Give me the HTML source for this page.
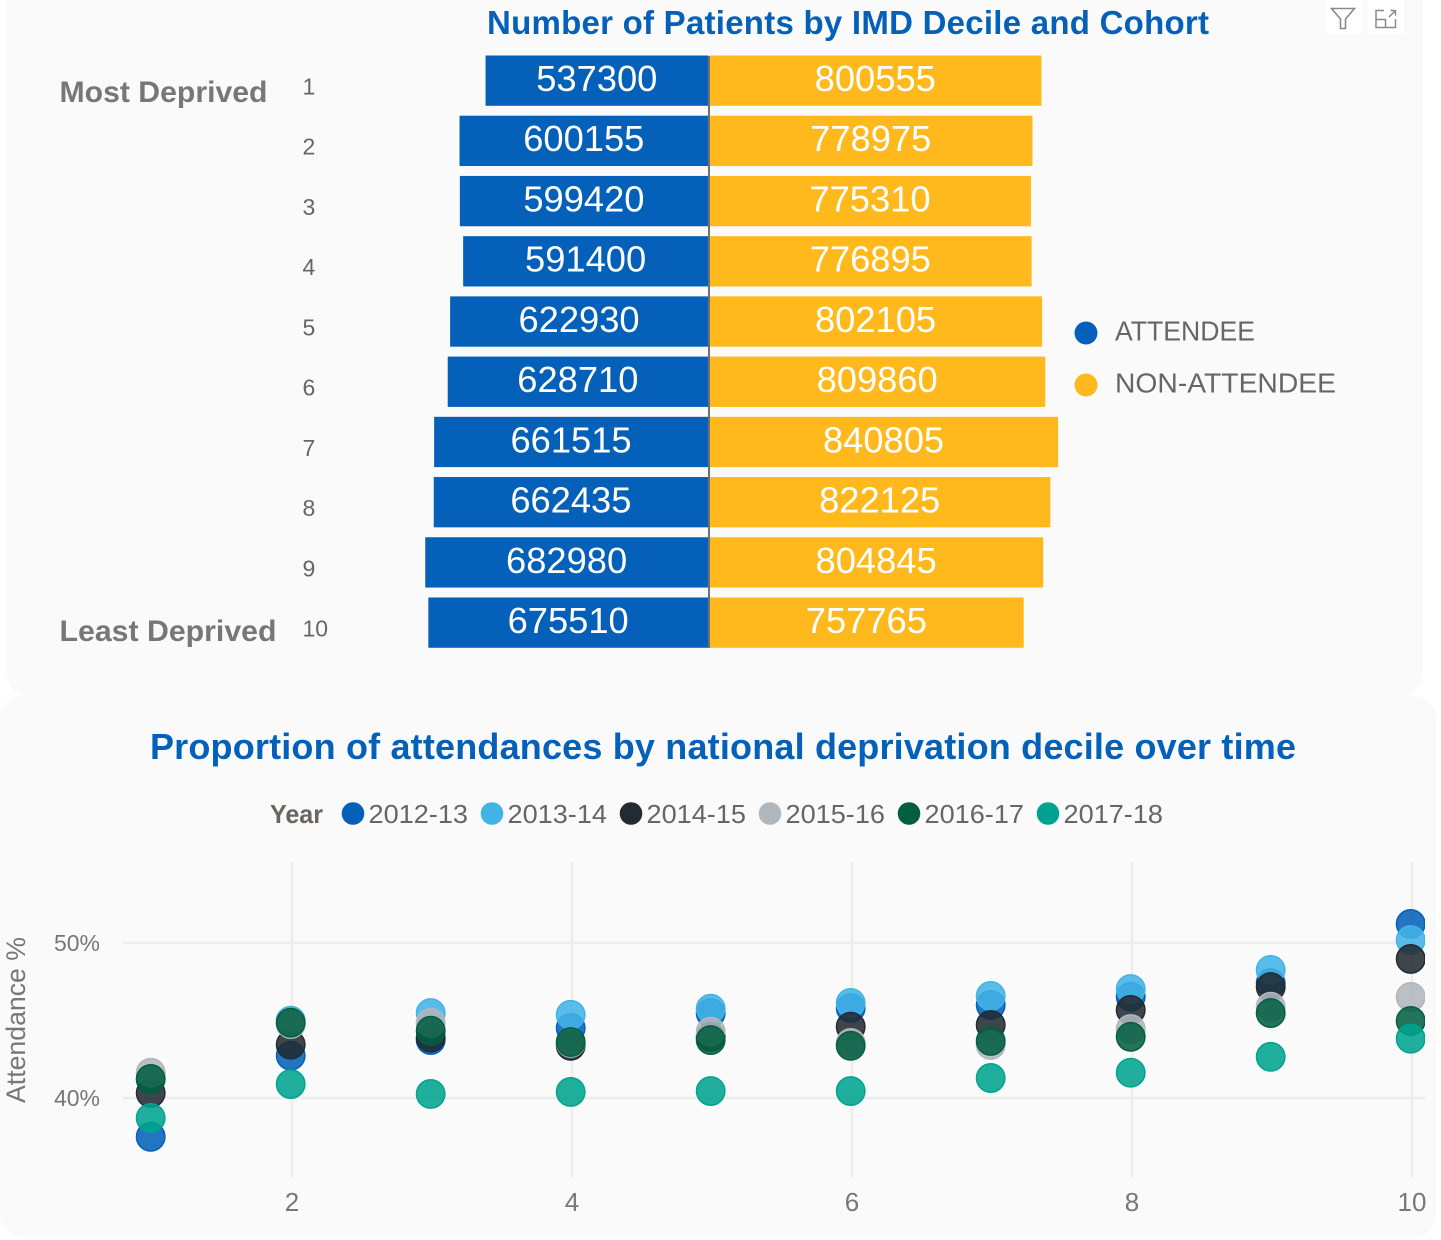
<!DOCTYPE html>
<html lang="en">
<head>
<meta charset="utf-8">
<title>Patients by IMD Decile and Attendance Over Time</title>
<style>
  html,body{margin:0;padding:0;background:#fff;width:1441px;height:1240px;overflow:hidden}
  svg{display:block}
  text{font-family:"Liberation Sans",Arial,sans-serif}
</style>
</head>
<body>
<svg id="page" xmlns="http://www.w3.org/2000/svg" width="1441" height="1240" viewBox="0 0 1441 1240">
  <defs>
    <clipPath id="plot-clip"><rect x="100" y="850" width="1325" height="340"/></clipPath>
  </defs>
  <rect x="7" y="-30" width="1416" height="726" rx="22" fill="#fafafa"/>
  <rect x="0" y="696" width="1436" height="541" rx="22" fill="#fafafa"/>

  <text x="487" y="34" font-size="33" font-weight="700" fill="#0460b8" textLength="722" lengthAdjust="spacing">Number of Patients by IMD Decile and Cohort</text>

  <g>
    <rect x="1326" y="0" width="36" height="34" fill="#fff"/>
    <path d="M1331.5 8.5 H1354.5 L1345.5 19 V28.5 H1340.5 V19 Z" fill="none" stroke="#8a8a8a" stroke-width="1.6"/>
  </g>
  <g>
    <rect x="1368" y="0" width="36" height="34" fill="#fff"/>
    <path d="M1384 10.5 H1376 V27.5 H1395.5 V19 M1376 19.5 H1385.5 V27.5 M1389 17 L1395.5 10.5 M1390.5 10.5 H1395.5 V15.5" fill="none" stroke="#8a8a8a" stroke-width="1.5"/>
  </g>

  <text x="59.5" y="102" font-size="30" font-weight="700" fill="#777" textLength="208" lengthAdjust="spacingAndGlyphs">Most Deprived</text>
  <text x="59.5" y="641" font-size="30" font-weight="700" fill="#777" textLength="217" lengthAdjust="spacingAndGlyphs">Least Deprived</text>

  <g id="pyramid"></g>
  <rect x="708" y="56" width="2" height="592" fill="#707070"/>

  <g>
    <circle cx="1086" cy="333" r="11.5" fill="#0460b8"/>
    <text x="1115" y="340.5" font-size="28" fill="#666" textLength="140" lengthAdjust="spacingAndGlyphs">ATTENDEE</text>
  </g>
  <g>
    <circle cx="1086" cy="385" r="11.5" fill="#ffb91d"/>
    <text x="1115" y="392.5" font-size="28" fill="#666" textLength="221" lengthAdjust="spacingAndGlyphs">NON-ATTENDEE</text>
  </g>

  <text x="150" y="759" font-size="36" font-weight="700" fill="#0460b8" textLength="1146" lengthAdjust="spacing">Proportion of attendances by national deprivation decile over time</text>

  <text x="270" y="823" font-size="26" font-weight="700" fill="#6b6560" textLength="53" lengthAdjust="spacingAndGlyphs">Year</text>
  <g id="year-legend"></g>

  <text transform="translate(25,1103) rotate(-90)" font-size="27" fill="#777" textLength="166" lengthAdjust="spacingAndGlyphs">Attendance %</text>
  <g id="grid"></g>
  <g id="ticks"></g>
  <g id="points" clip-path="url(#plot-clip)"></g>
</svg>

<script>
const NS = 'http://www.w3.org/2000/svg';

/* Pyramid chart data */
const deciles = ['1','2','3','4','5','6','7','8','9','10'];
const attendee = [537300,600155,599420,591400,622930,628710,661515,662435,682980,675510];
const nonAttendee = [800555,778975,775310,776895,802105,809860,840805,822125,804845,757765];

/* Scatter chart data (attendance %, by decile 1-10) */
const years = ['2012-13','2013-14','2014-15','2015-16','2016-17','2017-18'];
const yearColors = ['#0460b8','#41b3e6','#212b31','#b0b7bd','#045e42','#00a38f'];
const decileTicks = [2,4,6,8,10];
const percentTicks = [40,50];
const att2012 = [37.5,42.73,43.74,44.52,45.48,45.81,46.0,46.54,47.42,51.23];
const att2013 = [41.2,44.99,45.48,45.37,45.76,46.13,46.58,47.03,48.26,50.19];
const att2014 = [40.32,43.44,43.89,43.37,43.94,44.6,44.71,45.68,47.16,48.97];
const att2015 = [41.63,44.77,44.84,43.55,44.28,43.55,43.42,44.45,45.89,46.52];
const att2016 = [41.23,44.86,44.34,43.61,43.74,43.37,43.68,43.95,45.48,44.97];
const att2017 = [38.71,40.9,40.26,40.39,40.45,40.45,41.29,41.63,42.66,43.83];
const attendanceSeries = [att2012,att2013,att2014,att2015,att2016,att2017];

/* Axis functions */
const leftOrigin = 708;
const rightOrigin = 710;
const widthScale = v => v * 0.000414;
const rowTop = i => 55.5 + i * 60.22;
const rowHeight = 50.3;
const xScale = d => 150.7 + (d - 1) * 140;
const yScale = p => 1098 - (p - 40) * 15.5;

function make(tag, attrs, parent, txt){
  const el = document.createElementNS(NS, tag);
  for (const k in attrs) el.setAttribute(k, attrs[k]);
  if (txt !== undefined) el.textContent = txt;
  parent.appendChild(el);
  return el;
}

const pyramid = document.getElementById('pyramid');
deciles.forEach((d, i) => {
  const y = rowTop(i);
  const wl = widthScale(attendee[i]);
  const wr = widthScale(nonAttendee[i]);

  const label = make('text', {x: 302.5, y: y + 39, 'font-size': 23, fill: '#666'}, pyramid, d);
  
  

  const barL = make('rect', {x: leftOrigin - wl, y: y, width: wl, height: rowHeight, fill: '#0460b8'}, pyramid);
  
  

  const barR = make('rect', {x: rightOrigin - 1, y: y, width: wr + 1, height: rowHeight, fill: '#ffb91d'}, pyramid);
  
  

  const valL = make('text', {x: leftOrigin - wl / 2, y: y + 35.5, 'font-size': 36.3, fill: '#fff', 'text-anchor': 'middle'}, pyramid, attendee[i]);
  
  

  const valR = make('text', {x: rightOrigin + wr / 2 - 0.5, y: y + 35.5, 'font-size': 36.3, fill: '#fff', 'text-anchor': 'middle'}, pyramid, nonAttendee[i]);
  
  
});

const yearLegend = document.getElementById('year-legend');
years.forEach((yr, i) => {
  const g = make('g', {}, yearLegend);
  
  
  make('circle', {cx: 353 + i * 139, cy: 813.5, r: 11.3, fill: yearColors[i]}, g);
  make('text', {x: 368.5 + i * 139, y: 823, 'font-size': 26, fill: '#666', textLength: 99.5, lengthAdjust: 'spacingAndGlyphs'}, g, yr);
});

const grid = document.getElementById('grid');
const ticks = document.getElementById('ticks');
percentTicks.forEach(p => {
  const line = make('line', {x1: 123, x2: 1425, y1: yScale(p), y2: yScale(p), stroke: '#ececec', 'stroke-width': 2.4}, grid);
  
  
  const t = make('text', {x: 100, y: yScale(p) + 8, 'font-size': 23, fill: '#777', 'text-anchor': 'end'}, ticks, p + '%');
  
  
});
decileTicks.forEach(d => {
  const gx = xScale(d) + 1.3;
  const line = make('line', {x1: gx, x2: gx, y1: 862, y2: 1177, stroke: '#ececec', 'stroke-width': 2.4}, grid);
  
  
  const t = make('text', {x: gx, y: 1211, 'font-size': 26, fill: '#777', 'text-anchor': 'middle'}, ticks, d);
  
  
});

const points = document.getElementById('points');
attendanceSeries.forEach((vals, s) => {
  vals.forEach((v, i) => {
    const c = make('circle', {
      cx: xScale(i + 1), cy: yScale(v), r: 14.2,
      fill: yearColors[s], 'fill-opacity': 0.87,
      stroke: yearColors[s], 'stroke-width': 1.5
    }, points);
    
    
  });
});
</script>
</body>
</html>
